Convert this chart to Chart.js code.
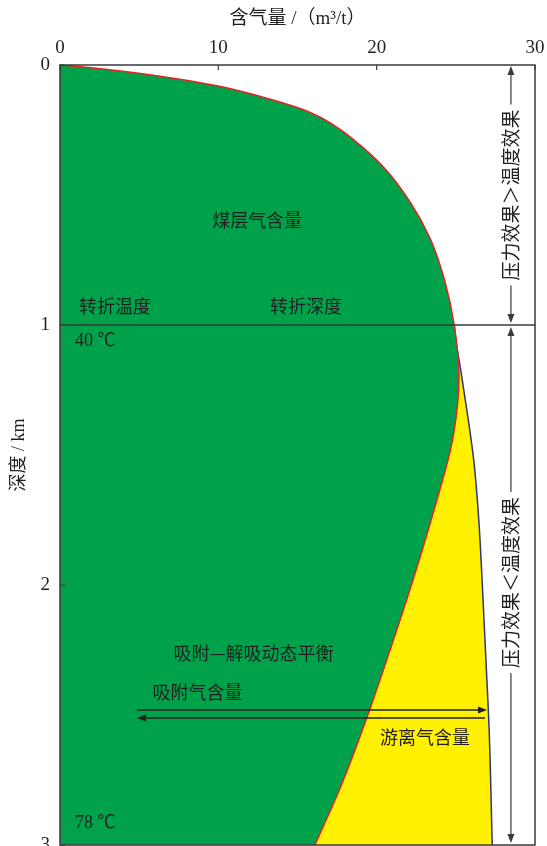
<!DOCTYPE html>
<html>
<head>
<meta charset="utf-8">
<script src="https://cdn.jsdelivr.net/npm/chart.js@4.4.1/dist/chart.umd.min.js"></script>
<style>
html,body{margin:0;padding:0;background:#fff;overflow:hidden;}
#wrap{width:547px;height:846px;position:relative;}
</style>
</head>
<body>
<div id="wrap"><canvas id="c"></canvas></div>
<script>
// ---- data ----
const depthAds = [0, 0.01, 0.04, 0.08, 0.12, 0.17, 0.20, 0.24, 0.28, 0.39, 0.53, 0.67, 0.83, 1.0, 1.2, 1.31, 1.47, 1.62, 1.8, 1.97, 2.24, 2.49, 2.78, 3.0];
const adsorbedGas = [0, 1.8, 6.0, 9.9, 12.6, 15.3, 16.4, 17.5, 18.4, 20.4, 22.15, 23.4, 24.3, 24.9, 25.2, 25.1, 24.7, 24.05, 23.2, 22.35, 20.9, 19.5, 17.7, 16.1];
const depthTotal = [1.0, 1.06, 1.17, 1.37, 1.53, 1.75, 1.97, 2.29, 2.55, 3.0];
const totalGas = [24.9, 25.0, 25.3, 25.8, 26.15, 26.45, 26.65, 26.9, 27.1, 27.3];
const transitionDepth = 1;
const xTicks = [0, 10, 20, 30];
const yTicks = [0, 1, 2, 3];

const CJK = '"Noto Sans CJK SC"';
const SERIF = '"Liberation Serif", "Noto Sans CJK SC"';
const INK = '#231f20';

const annotations = [
  {text:'煤层气含量', x:12.45, y:0.596, align:'center'},
  {text:'转折温度', x:3.47, y:0.927, align:'center'},
  {text:'转折深度', x:15.54, y:0.927, align:'center'},
  {text:'40 ℃', x:0.95, y:1.062, align:'left', serif:true},
  {text:'78 ℃', x:0.95, y:2.915, align:'left', serif:true},
  {text:'吸附—解吸动态平衡', x:12.22, y:2.262, align:'center'},
  {text:'吸附气含量', x:8.68, y:2.412, align:'center'},
  {text:'游离气含量', x:23.05, y:2.585, align:'center'}
];

function arrowHead(ctx, x, y, dir) {
  const L = 9, W = 3.5;
  ctx.beginPath();
  ctx.moveTo(x, y);
  if (dir === 'up') { ctx.lineTo(x - W, y + L); ctx.lineTo(x + W, y + L); }
  if (dir === 'down') { ctx.lineTo(x - W, y - L); ctx.lineTo(x + W, y - L); }
  if (dir === 'right') { ctx.lineTo(x - L, y - W); ctx.lineTo(x - L, y + W); }
  if (dir === 'left') { ctx.lineTo(x + L, y - W); ctx.lineTo(x + L, y + W); }
  ctx.closePath();
  ctx.fill();
}

const annotPlugin = {
  id: 'annot',
  afterDatasetsDraw(chart) {
    const ctx = chart.ctx;
    const xs = chart.scales.x, ys = chart.scales.y;
    const a = chart.chartArea;
    ctx.save();
    ctx.strokeStyle = '#3a3a3a';
    ctx.fillStyle = '#3a3a3a';
    ctx.lineWidth = 1.5;
    ctx.strokeRect(a.left, a.top, a.right - a.left, a.bottom - a.top);
    ctx.lineWidth = 1.2;
    xTicks.forEach(v => {
      const px = xs.getPixelForValue(v);
      ctx.beginPath(); ctx.moveTo(px, a.top); ctx.lineTo(px, a.top + 5); ctx.stroke();
    });
    yTicks.forEach(v => {
      const py = ys.getPixelForValue(v);
      ctx.beginPath(); ctx.moveTo(a.left, py); ctx.lineTo(a.left + 5, py); ctx.stroke();
    });

    ctx.fillStyle = INK;
    ctx.textBaseline = 'middle';
    annotations.forEach(t => {
      ctx.font = (t.serif ? '18px ' + SERIF : '18px ' + CJK);
      ctx.textAlign = t.align;
      ctx.fillText(t.text, xs.getPixelForValue(t.x), ys.getPixelForValue(t.y));
    });

    ctx.strokeStyle = '#231f20';
    ctx.fillStyle = '#231f20';
    ctx.lineWidth = 1.5;
    const y1 = ys.getPixelForValue(2.481), y2 = ys.getPixelForValue(2.512);
    const xa = xs.getPixelForValue(4.86), xb = xs.getPixelForValue(26.97), xc = xs.getPixelForValue(26.84);
    ctx.beginPath(); ctx.moveTo(xa, y1); ctx.lineTo(xb - 6, y1); ctx.stroke();
    arrowHead(ctx, xb, y1, 'right');
    ctx.beginPath(); ctx.moveTo(xa + 6, y2); ctx.lineTo(xc, y2); ctx.stroke();
    arrowHead(ctx, xa, y2, 'left');

    const vx = xs.getPixelForValue(28.48);
    ctx.lineWidth = 1.2;
    ctx.strokeStyle = '#3a3a3a';
    ctx.fillStyle = '#3a3a3a';
    const sections = [
      {top: ys.getPixelForValue(0) + 1, bot: ys.getPixelForValue(transitionDepth) - 2, mid: ys.getPixelForValue(0.5), text:'压力效果＞温度效果'},
      {top: ys.getPixelForValue(transitionDepth) + 2, bot: ys.getPixelForValue(3) - 2, mid: ys.getPixelForValue(1.99), text:'压力效果＜温度效果'}
    ];
    ctx.font = '19px ' + CJK;
    sections.forEach(s => {
      const w = ctx.measureText(s.text).width;
      const g1 = s.mid - w / 2 - 5, g2 = s.mid + w / 2 + 5;
      ctx.beginPath(); ctx.moveTo(vx, s.top + 6); ctx.lineTo(vx, g1); ctx.stroke();
      ctx.beginPath(); ctx.moveTo(vx, g2); ctx.lineTo(vx, s.bot - 6); ctx.stroke();
      arrowHead(ctx, vx, s.top, 'up');
      arrowHead(ctx, vx, s.bot, 'down');
      ctx.save();
      ctx.translate(vx, s.mid);
      ctx.rotate(-Math.PI / 2);
      ctx.fillStyle = INK;
      ctx.textAlign = 'center';
      ctx.textBaseline = 'middle';
      ctx.fillText(s.text, 0, 0);
      ctx.restore();
    });
    ctx.restore();
  }
};

new Chart(document.getElementById('c'), {
  type: 'line',
  data: {
    datasets: [
      {
        label: '吸附气含量',
        data: depthAds.map((d, i) => ({x: adsorbedGas[i], y: d})),
        borderColor: '#e52421',
        borderWidth: 1.5,
        backgroundColor: '#00a14b',
        fill: 'origin',
        pointRadius: 0,
        cubicInterpolationMode: 'monotone'
      },
      {
        label: '总含气量',
        data: depthTotal.map((d, i) => ({x: totalGas[i], y: d})),
        borderColor: '#2e3192',
        borderWidth: 1.5,
        backgroundColor: '#fff100',
        fill: '-1',
        pointRadius: 0,
        cubicInterpolationMode: 'monotone'
      },
      {
        label: '转折深度',
        data: [{x: xTicks[0], y: transitionDepth}, {x: xTicks[xTicks.length - 1], y: transitionDepth}],
        borderColor: '#3a3a3a',
        borderWidth: 1.5,
        fill: false,
        pointRadius: 0,
        order: -1
      }
    ]
  },
  options: {
    indexAxis: 'y',
    responsive: true,
    maintainAspectRatio: false,
    animation: false,
    events: [],
    layout: {padding: {left: 0, right: 12, top: 0, bottom: 1}},
    plugins: {legend: {display: false}, tooltip: {enabled: false}},
    scales: {
      x: {
        type: 'linear', position: 'top', min: 0, max: 30,
        ticks: {stepSize: 10, padding: 6, color: INK, font: {family: SERIF, size: 19}},
        grid: {display: false, drawTicks: false},
        border: {display: false},
        title: {display: true, text: '含气量 /（m³/t）', color: INK,
                font: {family: SERIF, size: 19, weight: 'normal'}, padding: {top: 8, bottom: 0}},
        afterFit(s) { s.height = 65; s.paddingLeft = 0; s.paddingRight = 0; }
      },
      y: {
        type: 'linear', position: 'left', reverse: true, min: 0, max: 3,
        ticks: {stepSize: 1, padding: 10, color: INK, font: {family: SERIF, size: 19}},
        grid: {display: false, drawTicks: false},
        border: {display: false},
        title: {display: true, text: '深度 / km', color: INK,
                font: {family: SERIF, size: 18, weight: 'normal'}, padding: {top: 8, bottom: 0}},
        afterFit(s) { s.width = 60; s.paddingTop = 0; s.paddingBottom = 0; }
      }
    }
  },
  plugins: [annotPlugin]
});
</script>
</body>
</html>
